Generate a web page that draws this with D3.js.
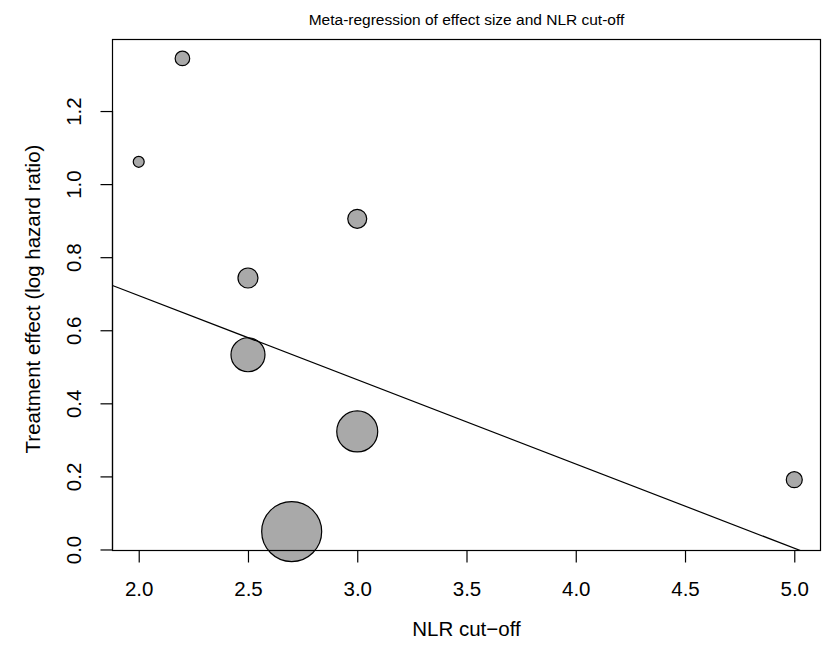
<!DOCTYPE html>
<html>
<head>
<meta charset="utf-8">
<script src="https://cdn.jsdelivr.net/npm/d3@7/dist/d3.min.js"></script>
<style>
  body { margin: 0; background: #fff; }
  text { font-family: "Liberation Sans", Arial, Helvetica, sans-serif; fill: #000; }
</style>
</head>
<body>
<svg id="chart" width="830" height="650"></svg>
<script>
// Data
const cutoffs = [2.2, 2.0, 3.0, 2.5, 2.5, 3.0, 2.7, 5.0];
const effects = [1.344, 1.061, 0.905, 0.743, 0.533, 0.323, 0.049, 0.191];
const weights = [53, 30, 90, 100, 289, 420, 900, 64];
const xTicks = [2.0, 2.5, 3.0, 3.5, 4.0, 4.5, 5.0];
const yTicks = [0.0, 0.2, 0.4, 0.6, 0.8, 1.0, 1.2];
const fitIntercept = 1.156;
const fitSlope = -0.2305;

const svg = d3.select("#chart");
const mLeft = 112.5, mRight = 820.5, mTop = 39.5, mBottom = 550.5;
const FONT = "Liberation Sans, Arial, Helvetica, sans-serif";

const xMin = d3.min(cutoffs), xMax = d3.max(cutoffs);
const yMin = d3.min(effects), yMax = d3.max(effects);
const xPad = (xMax - xMin) * 0.04, yPad = (yMax - yMin) * 0.04;

const x = d3.scaleLinear().domain([xMin - xPad, xMax + xPad]).range([mLeft, mRight]);
const y = d3.scaleLinear().domain([yMin - yPad, yMax + yPad]).range([mBottom, mTop]);
const r = d3.scaleSqrt().domain([0, d3.max(weights)]).range([0, 30]);

svg.append("defs").append("clipPath").attr("id", "clip")
  .append("rect").attr("x", mLeft).attr("y", mTop).attr("width", mRight - mLeft).attr("height", mBottom - mTop);

const data = cutoffs.map((c, i) => ({ x: c, y: effects[i], w: weights[i] }));

// Points
svg.append("g").selectAll("circle").data(data).join("circle")
  .attr("cx", d => x(d.x)).attr("cy", d => y(d.y)).attr("r", d => r(d.w))
  .attr("fill", "#A9A9A9").attr("stroke", "#000").attr("stroke-width", 1.2);

// Regression line
const xd = x.domain();
svg.append("line")
  .attr("clip-path", "url(#clip)")
  .attr("x1", x(xd[0])).attr("y1", y(fitIntercept + fitSlope * xd[0]))
  .attr("x2", x(xd[1])).attr("y2", y(fitIntercept + fitSlope * xd[1]))
  .attr("stroke", "#000").attr("stroke-width", 1.2);

// Box
svg.append("rect").attr("x", mLeft).attr("y", mTop).attr("width", mRight - mLeft).attr("height", mBottom - mTop)
  .attr("fill", "none").attr("stroke", "#000").attr("stroke-width", 1.2);

// X axis
const xAxis = d3.axisBottom(x).tickValues(xTicks).tickFormat(d3.format(".1f")).tickSize(12);
const gx = svg.append("g").attr("transform", `translate(0,${mBottom})`).call(xAxis);
gx.select(".domain").attr("d", `M${x(xTicks[0])},0H${x(xTicks[xTicks.length-1])}`).attr("stroke-width", 1.2);
gx.selectAll(".tick line").attr("stroke-width", 1.2);
gx.selectAll("text").attr("font-size", 20.5).attr("font-family", FONT)
  .attr("y", 45).attr("dy", null);

// Y axis
const yAxis = d3.axisLeft(y).tickValues(yTicks).tickFormat(d3.format(".1f")).tickSize(12);
const gy = svg.append("g").attr("transform", `translate(${mLeft},0)`).call(yAxis);
gy.select(".domain").attr("d", `M0,${y(yTicks[0])}V${y(yTicks[yTicks.length-1])}`).attr("stroke-width", 1.2);
gy.selectAll(".tick line").attr("stroke-width", 1.2);
gy.selectAll("text")
  .attr("font-size", 20.5).attr("font-family", FONT)
  .attr("x", null).attr("dy", null)
  .attr("text-anchor", "middle")
  .attr("transform", "translate(-32,0) rotate(-90)");

// Title
svg.append("text").attr("x", (mLeft + mRight) / 2).attr("y", 25).attr("text-anchor", "middle")
  .attr("font-size", 15.5).text("Meta-regression of effect size and NLR cut-off");

// Axis titles
svg.append("text").attr("x", (mLeft + mRight) / 2).attr("y", 636).attr("text-anchor", "middle")
  .attr("font-size", 20.5).text("NLR cut\u2212off");
svg.append("text").attr("transform", `translate(40,${(mTop + mBottom) / 2 + 4}) rotate(-90)`)
  .attr("text-anchor", "middle").attr("font-size", 20.5).text("Treatment effect (log hazard ratio)");
</script>
</body>
</html>
